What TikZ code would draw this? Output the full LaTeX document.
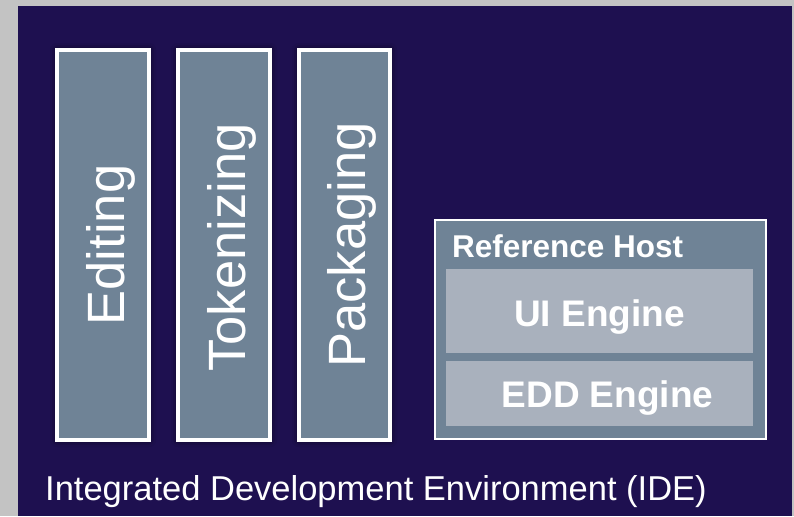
\documentclass[tikz,border=0pt]{standalone}
\usepackage{fontspec}
\setmainfont{Liberation Sans}
\usetikzlibrary{shadows.blur}
\definecolor{pagegray}{HTML}{C3C3C3}
\definecolor{ideblue}{HTML}{1E1050}
\definecolor{barfill}{HTML}{6F8396}
\definecolor{enginefill}{HTML}{A9B1BD}
\tikzset{
  bar/.style={draw=white, line width=4pt, fill=barfill,
    blur shadow={shadow xshift=0pt, shadow yshift=0pt, shadow blur radius=7pt, shadow opacity=70, shadow scale=1.0}},
  bartext/.style={rotate=90, anchor=base, text=white, inner sep=0pt, font=\fontsize{52.5}{60}\selectfont},
  hostbox/.style={draw=white, line width=2pt, fill=barfill},
  engine/.style={fill=enginefill, draw=none},
  enginetext/.style={anchor=base, text=white, inner sep=0pt, font=\fontsize{37}{44}\selectfont\bfseries},
}
\begin{document}
\begin{tikzpicture}[x=1pt, y=-1pt]
\useasboundingbox (0,0) rectangle (794,516);
\fill[pagegray] (0,0) rectangle (794,516);
\fill[ideblue] (18,6) rectangle (792,516);
% bars
\path[bar] (57,50) rectangle (149,440);
\path[bar] (178,50) rectangle (270,440);
\path[bar] (299,50) rectangle (390,440);
\node[bartext] (editing) at (124,245) {Editing};
\node[bartext] (tokenizing) at (245,247.5) {Tokenizing};
\node[bartext] (packaging) at (365.5,245) {Packaging};
% reference host
\path[hostbox] (435,220) rectangle (766,439);
\node[anchor=base west, text=white, inner sep=0pt, font=\fontsize{31.5}{36}\selectfont\bfseries] (host) at (452,257) {Reference Host};
\fill[engine] (446,269) rectangle (753,353);
\fill[engine] (446,361) rectangle (753,426);
\node[enginetext] (ui) at (599.5,326) {UI Engine};
\node[enginetext] (edd) at (607.5,407) {EDD Engine};
% caption
\node[anchor=base west, text=white, inner sep=0pt, font=\fontsize{34.5}{40}\selectfont] (ide) at (45,500) {Integrated Development Environment (IDE)};
\end{tikzpicture}
\end{document}
